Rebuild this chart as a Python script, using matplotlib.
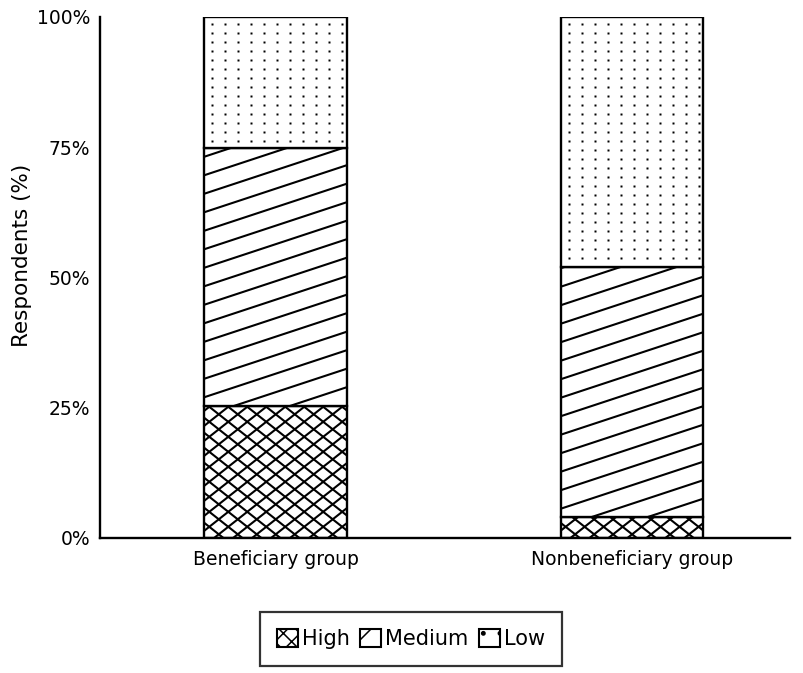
import numpy as np
import matplotlib
matplotlib.use('Agg')
import matplotlib.pyplot as plt
from matplotlib.patches import Patch
from matplotlib.lines import Line2D
from matplotlib.transforms import IdentityTransform

groups = ["Beneficiary group", "Nonbeneficiary group"]
levels = ["High", "Medium", "Low"]
high = [25.4, 4.0]
medium = [49.4, 48.0]
low = [25.2, 48.0]
yticks = [0, 25, 50, 75, 100]
ytick_labels = ["0%", "25%", "50%", "75%", "100%"]

plt.rcParams['font.family'] = ['DejaVu Sans']
plt.rcParams['hatch.linewidth'] = 1.1
fig = plt.figure(figsize=(8.04, 6.73), dpi=100)
ax = fig.add_axes([0.124, 0.2006, 0.859, 0.7743])

x = np.arange(len(groups))
w = 0.40
bars = {}
bottom = np.zeros(len(groups))
for name, vals in zip(levels, [high, medium, low]):
    bars[name] = ax.bar(x, vals, w, bottom=bottom, color='white',
                        edgecolor='black', linewidth=1.7, zorder=2)
    bottom += np.array(vals)

ax.set_xlim(-0.494, 1.444)
ax.set_ylim(0, 100)
ax.set_xticks(x)
ax.set_xticklabels(groups, fontsize=13.5)
ax.set_yticks(yticks)
ax.set_yticklabels(ytick_labels, fontsize=13.5)
ax.tick_params(axis='both', length=0)
ax.tick_params(axis='x', pad=9)
ax.tick_params(axis='y', pad=7)
for s in ['top', 'right']:
    ax.spines[s].set_visible(False)
for s in ['left', 'bottom']:
    ax.spines[s].set_linewidth(1.7)
ax.set_ylabel("Respondents (%)", fontsize=15.5, va='center')
ax.yaxis.set_label_coords(-0.113, 0.543)

fig.canvas.draw()
ident = IdentityTransform()


def line_hatch(patch, slope, spacing, lw=1.5):
    bb = patch.get_window_extent()
    x0, x1, y0, y1 = bb.x0, bb.x1, bb.y0, bb.y1
    span = slope * (x1 - x0)
    lo = min(y0, y0 - span) - spacing
    hi = max(y1, y1 - span) + spacing
    for c in np.arange(lo, hi, spacing):
        ln = Line2D([x0, x1], [c, c + span], transform=ident,
                    color='black', lw=lw, zorder=3)
        fig.add_artist(ln)
        ln.set_clip_path(patch)


def dot_hatch(patch, dx, dy, ms=1.7):
    bb = patch.get_window_extent()
    xs = np.arange(bb.x0 + dx * 0.6, bb.x1, dx)
    ys = np.arange(bb.y1 - dy * 0.8, bb.y0, -dy)
    X, Y = np.meshgrid(xs, ys)
    ln = Line2D(X.ravel(), Y.ravel(), transform=ident, linestyle='none',
                marker='s', markersize=ms, markerfacecolor='black',
                markeredgecolor='none', zorder=3)
    fig.add_artist(ln)
    ln.set_clip_path(patch)


for p in bars["High"]:
    line_hatch(p, 0.79, 15)
    line_hatch(p, -0.79, 15)
for p in bars["Medium"]:
    line_hatch(p, 0.33, 18.5)
for p in bars["Low"]:
    dot_hatch(p, 13, 9)

handles = [Patch(facecolor='white', edgecolor='black', hatch='xx', linewidth=1.5),
           Patch(facecolor='white', edgecolor='black', hatch='/', linewidth=1.5),
           Patch(facecolor='white', edgecolor='black', hatch='.', linewidth=1.5)]
leg = fig.legend(handles, levels, loc='center', bbox_to_anchor=(0.511, 0.0505),
                 ncol=3, frameon=True, fancybox=False, edgecolor='black',
                 fontsize=15, handlelength=1.0, handleheight=1.0,
                 columnspacing=0.5, handletextpad=0.2, borderpad=0.8,
                 borderaxespad=0)
leg.get_frame().set_linewidth(1.6)

fig.savefig('out.png', dpi=100)
